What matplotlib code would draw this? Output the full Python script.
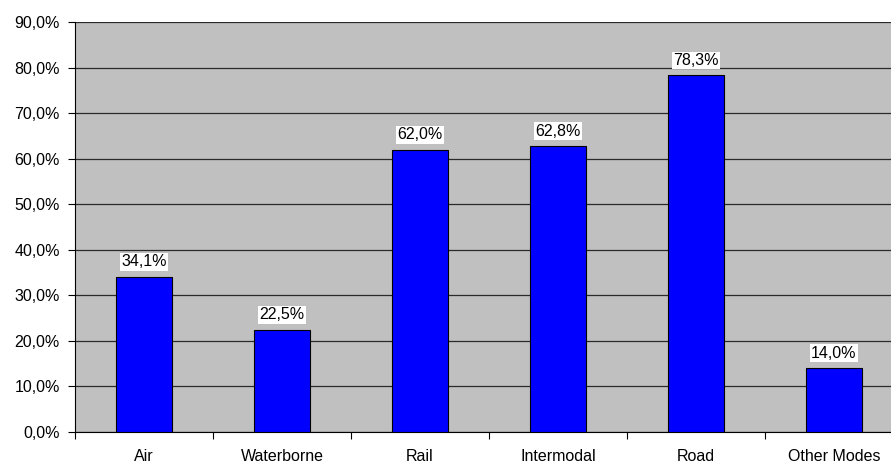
import matplotlib.pyplot as plt
from matplotlib.ticker import FuncFormatter, FixedLocator

plt.rcParams['font.family'] = ['Liberation Sans', 'DejaVu Sans']

modes = ["Air", "Waterborne", "Rail", "Intermodal", "Road", "Other Modes"]
shares = [34.1, 22.5, 62.0, 62.8, 78.3, 14.0]

def pct(v):
    return f"{v:.1f}%".replace(".", ",")

fig = plt.figure(figsize=(8.91, 4.67), dpi=100)
ax = fig.add_axes([75 / 891, 35 / 467, 828 / 891, 410 / 467])
ax.set_facecolor("#C0C0C0")

x = list(range(len(modes)))
bars = ax.bar(x, shares, width=0.4, color="#0000FF", edgecolor="black", linewidth=0.8, zorder=3)

for b, v in zip(bars, shares):
    ax.text(b.get_x() + b.get_width() / 2, v + 1.6, pct(v), ha="center", va="bottom",
            fontsize=11.5, zorder=4,
            bbox=dict(facecolor="white", edgecolor="none", pad=1.0))

ax.set_xlim(-0.5, len(modes) - 0.5)
ax.set_ylim(0, 90)
ax.set_yticks(range(0, 91, 10))
ax.yaxis.set_major_formatter(FuncFormatter(lambda v, p: pct(v)))
ax.yaxis.grid(True, color="#2a2a2a", linewidth=0.9, zorder=1)
ax.set_axisbelow(True)

# category labels centred, ticks on the boundaries
ax.xaxis.set_major_locator(FixedLocator([i - 0.5 for i in range(len(modes) + 1)]))
ax.xaxis.set_major_formatter(FuncFormatter(lambda v, p: ""))
ax.xaxis.set_minor_locator(FixedLocator(x))
ax.set_xticklabels(modes, minor=True)
ax.tick_params(axis="x", which="minor", length=0, pad=12, labelsize=11.5)
ax.tick_params(axis="x", which="major", length=5, direction="out")
ax.tick_params(axis="y", length=5, direction="out", labelsize=11.5, pad=6)

for s in ("top", "right"):
    ax.spines[s].set_visible(False)
ax.spines["left"].set_color("black")
ax.spines["bottom"].set_color("black")

fig.savefig("out.png", dpi=100)
